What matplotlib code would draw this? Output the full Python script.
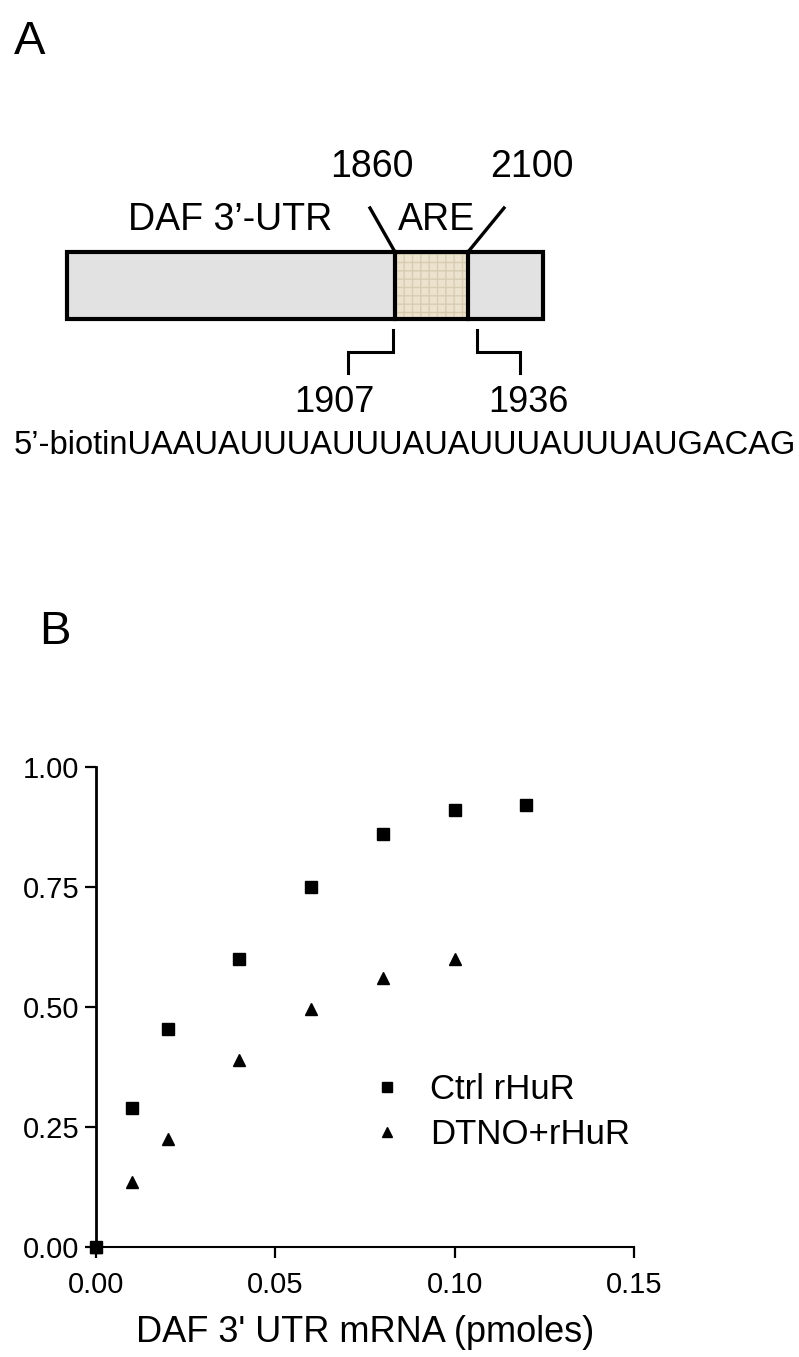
import matplotlib
matplotlib.use("Agg")
import matplotlib.pyplot as plt
from matplotlib.patches import Rectangle
from matplotlib.lines import Line2D

plt.rcParams['font.family'] = ['Liberation Sans', 'DejaVu Sans']

# ---------------- data ----------------
ctrl_x = [0.00, 0.01, 0.02, 0.04, 0.06, 0.08, 0.10, 0.12]
ctrl_y = [0.00, 0.29, 0.455, 0.60, 0.75, 0.86, 0.91, 0.92]
dtno_x = [0.00, 0.01, 0.02, 0.04, 0.06, 0.08, 0.10]
dtno_y = [0.00, 0.135, 0.225, 0.39, 0.495, 0.56, 0.60]
series_labels = ["Ctrl rHuR", "DTNO+rHuR"]
x_ticks = [0.00, 0.05, 0.10, 0.15]
y_ticks = [0.00, 0.25, 0.50, 0.75, 1.00]
x_label = "DAF 3' UTR mRNA (pmoles)"

diagram_labels = ["DAF 3’-UTR", "ARE"]
are_bounds = ["1860", "2100"]
probe_bounds = ["1907", "1936"]
probe_seq = "5’-biotinUAAUAUUUAUUUAUAUUUAUUUAUGACAG"

W, H = 799, 1357
fig = plt.figure(figsize=(W / 100, H / 100), dpi=100)

# ---------------- panel A (schematic, pixel layout) ----------------
axA = fig.add_axes([0, 0, 1, 1])
axA.set_xlim(0, W)
axA.set_ylim(H, 0)
axA.axis('off')

bar_l, bar_r, bar_t, bar_b = 67, 543, 252, 319
are_l, are_r = 395, 468
axA.add_patch(Rectangle((bar_l, bar_t), bar_r - bar_l, bar_b - bar_t,
                        facecolor='#e2e2e2', edgecolor='none', zorder=1))
axA.add_patch(Rectangle((are_l, bar_t), are_r - are_l, bar_b - bar_t,
                        facecolor='#ece3cf', edgecolor='none', zorder=2))
axA.add_patch(Rectangle((are_l, bar_t), are_r - are_l, bar_b - bar_t,
                        facecolor='none', edgecolor='#d8ccb2', hatch='++',
                        linewidth=0, zorder=3))
axA.add_patch(Rectangle((bar_l, bar_t), bar_r - bar_l, bar_b - bar_t,
                        facecolor='none', edgecolor='black', linewidth=3.0,
                        zorder=4))
for xv in (are_l, are_r):
    axA.plot([xv, xv], [bar_t, bar_b], color='black', lw=3.0, zorder=5)

# pointer lines to ARE boundaries
axA.plot([370, are_l], [208, bar_t], color='black', lw=2.4, zorder=5)
axA.plot([504, are_r], [208, bar_t], color='black', lw=2.4, zorder=5)

# probe brackets
axA.plot([393, 393, 348, 348], [330, 352, 352, 373], color='black', lw=2.2,
         solid_joinstyle='miter')
axA.plot([477, 477, 520, 520], [330, 352, 352, 373], color='black', lw=2.2,
         solid_joinstyle='miter')

tkw = dict(ha='center', va='center', color='black')
axA.text(230, 220, diagram_labels[0], fontsize=27, **tkw)
axA.text(436, 220, diagram_labels[1], fontsize=27, **tkw)
axA.text(372, 167, are_bounds[0], fontsize=27, **tkw)
axA.text(532, 167, are_bounds[1], fontsize=27, **tkw)
axA.text(334, 402, probe_bounds[0], fontsize=26, **tkw)
axA.text(528, 402, probe_bounds[1], fontsize=26, **tkw)
axA.text(405, 446, probe_seq, fontsize=23.5, **tkw)

axA.text(30, 42, "A", fontsize=34, **tkw)
axA.text(55, 632, "B", fontsize=34, **tkw)

# ---------------- panel B (scatter) ----------------
x0, x1 = 96, 634
y0, y1 = 1247, 767
axB = fig.add_axes([x0 / W, 1 - y0 / H, (x1 - x0) / W, (y0 - y1) / H])
axB.patch.set_alpha(0)
axB.plot(dtno_x, dtno_y, linestyle='none', marker='^', markersize=8.5,
         color='black', clip_on=False, zorder=3, label=series_labels[1])
axB.plot(ctrl_x, ctrl_y, linestyle='none', marker='s', markersize=8.5,
         color='black', clip_on=False, zorder=4, label=series_labels[0])

axB.set_xlim(0, 0.15)
axB.set_ylim(0, 1.0)
axB.set_xticks(x_ticks)
axB.set_yticks(y_ticks)
axB.set_xticklabels([f"{v:.2f}" for v in x_ticks])
axB.set_yticklabels([f"{v:.2f}" for v in y_ticks])
for s in ('top', 'right'):
    axB.spines[s].set_visible(False)
axB.spines['left'].set_linewidth(2.0)
axB.spines['bottom'].set_linewidth(1.5)
axB.tick_params(axis='y', direction='out', length=8, width=1.6, pad=4,
                labelsize=21)
axB.tick_params(axis='x', direction='out', length=8, width=1.6, pad=9,
                labelsize=21)
axB.set_xlabel(x_label, fontsize=26, labelpad=12)

handles, labels = axB.get_legend_handles_labels()
order = [1, 0]
leg = axB.legend([handles[i] for i in order], [labels[i] for i in order],
                 loc='upper left',
                 bbox_to_anchor=(370 / W, 1 - 1073 / H),
                 bbox_transform=fig.transFigure,
                 frameon=False, fontsize=25, handlelength=1.0,
                 handletextpad=0.74, labelspacing=0.34, borderpad=0,
                 borderaxespad=0, markerscale=0.8)

fig.savefig("out.png", dpi=100)
